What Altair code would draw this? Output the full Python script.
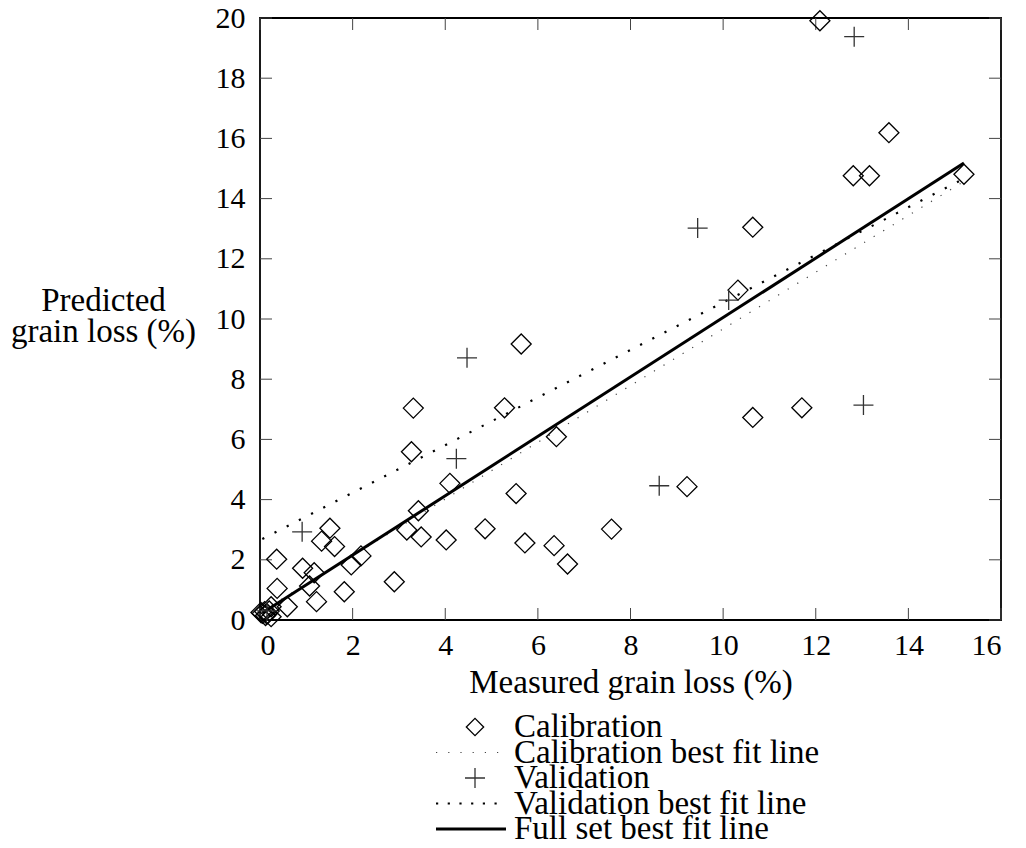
import altair as alt
import pandas as pd

# ---- data ----
cal_x = [12.09, 13.58, 12.81, 13.16, 15.20, 10.64, 10.32, 10.64, 11.70, 9.22,
         5.64, 3.31, 5.28, 3.27, 6.40, 4.10, 5.53, 3.42, 3.17, 3.48,
         4.02, 4.86, 5.72, 6.35, 6.64, 7.59, 2.90, 1.51, 1.33, 1.61,
         0.36, 2.18, 1.97, 0.92, 1.17, 0.37, 1.07, 1.82, 1.22, 0.59,
         0.24, 0.10, 0.05, 0.15, 0.02, 0.20, 0.12, 0.24]
cal_y = [19.91, 16.19, 14.76, 14.76, 14.81, 13.05, 10.96, 6.73, 7.05, 4.43,
         9.17, 7.04, 7.05, 5.59, 6.09, 4.54, 4.20, 3.63, 2.99, 2.76,
         2.66, 3.03, 2.56, 2.47, 1.86, 3.02, 1.27, 3.05, 2.62, 2.44,
         2.02, 2.13, 1.83, 1.72, 1.57, 1.05, 1.13, 0.94, 0.61, 0.44,
         0.44, 0.28, 0.22, 0.20, 0.25, 0.30, 0.15, 0.11]

val_x = [12.83, 9.45, 10.12, 13.03, 4.47, 4.24, 8.62, 0.91, 0.15]
val_y = [19.38, 13.02, 10.63, 7.14, 8.71, 5.36, 4.46, 2.93, 0.30]

fit_x = [0.05, 15.2]
full_fit_y = [0.23, 15.18]
cal_fit_y = [0.30, 14.57]
val_fit_y = [2.69, 14.66]

x_ticks = [0, 2, 4, 6, 8, 10, 12, 14, 16]
y_ticks = [0, 2, 4, 6, 8, 10, 12, 14, 16, 18, 20]

legend_labels = ["Calibration", "Calibration best fit line", "Validation",
                 "Validation best fit line", "Full set best fit line"]
legend_kinds = ["diamond", "calline", "cross", "valline", "fullline"]

FONT = "Liberation Serif"
W, H = 741, 602

cal = pd.DataFrame({"x": cal_x, "y": cal_y})
val = pd.DataFrame({"x": val_x, "y": val_y})
fits = pd.DataFrame({"x": fit_x, "full": full_fit_y, "cal": cal_fit_y, "val": val_fit_y})
xt = pd.DataFrame({"x": x_ticks})
yt = pd.DataFrame({"y": y_ticks})
leg = pd.DataFrame({"label": legend_labels, "kind": legend_kinds,
                    "row": list(range(len(legend_labels)))})

xs = alt.Scale(domain=[0, 16], nice=False, zero=False)
ys = alt.Scale(domain=[0, 20], nice=False, zero=False)

x_axis = alt.Axis(values=x_ticks, domain=False, ticks=False, tickSize=0, grid=False,
                  labelFont=FONT, labelFontSize=30, labelPadding=10, labelColor="black",
                  title="Measured grain loss (%)", titleFont=FONT, titleFontSize=33,
                  titleFontWeight="normal", titleColor="black", titlePadding=6)
y_axis = alt.Axis(values=y_ticks, domain=False, ticks=False, tickSize=0, grid=False,
                  labelFont=FONT, labelFontSize=30, labelPadding=15, labelColor="black",
                  title=["Predicted", "grain loss (%)"], titleFont=FONT, titleFontSize=33,
                  titleFontWeight="normal", titleColor="black", titleAngle=0,
                  titleAlign="center", titleBaseline="middle", titleX=-157, titleY=282,
                  titleLineHeight=31)

cal_pts = alt.Chart(cal).mark_point(shape="diamond", filled=False, size=400,
                                    color="black", strokeWidth=1.3, opacity=1).encode(
    x=alt.X("x:Q", scale=xs, axis=x_axis),
    y=alt.Y("y:Q", scale=ys, axis=y_axis))

val_pts = alt.Chart(val).mark_point(shape="M-1,0H1M0,-1V1", filled=False, size=400,
                                    color="#333333", strokeWidth=1.3, opacity=1).encode(
    x=alt.X("x:Q", scale=xs), y=alt.Y("y:Q", scale=ys))

full_line = alt.Chart(fits).mark_line(color="black", strokeWidth=3).encode(
    x=alt.X("x:Q", scale=xs), y=alt.Y("full:Q", scale=ys))
cal_line = alt.Chart(fits).mark_line(color="#444444", strokeWidth=1.2,
                                     strokeDash=[1.2, 10]).encode(
    x=alt.X("x:Q", scale=xs), y=alt.Y("cal:Q", scale=ys))
val_line = alt.Chart(fits).mark_line(color="black", strokeWidth=2.2,
                                     strokeDash=[2.2, 11.5]).encode(
    x=alt.X("x:Q", scale=xs), y=alt.Y("val:Q", scale=ys))

tick_style = dict(color="#444444", strokeWidth=1)
bt = alt.Chart(xt).mark_rule(**tick_style).encode(
    x=alt.X("x:Q", scale=xs), y=alt.value(H), y2=alt.value(H - 12))
tt = alt.Chart(xt).mark_rule(**tick_style).encode(
    x=alt.X("x:Q", scale=xs), y=alt.value(0), y2=alt.value(12))
lt = alt.Chart(yt).mark_rule(**tick_style).encode(
    y=alt.Y("y:Q", scale=ys), x=alt.value(0), x2=alt.value(12))
rt = alt.Chart(yt).mark_rule(**tick_style).encode(
    y=alt.Y("y:Q", scale=ys), x=alt.value(W), x2=alt.value(W - 12))

main = alt.layer(bt, tt, lt, rt, cal_line, val_line, full_line, cal_pts, val_pts)

# ---- legend below the plot ----
ly = alt.Y("row:Q", scale=alt.Scale(domain=[0, 4], range=[709, 811]), axis=None)
lbase = alt.Chart(leg)
l_text = lbase.mark_text(align="left", baseline="middle", font=FONT, fontSize=33,
                         color="black").encode(x=alt.value(254), y=ly, text="label:N")
l_dia = lbase.transform_filter(alt.datum.kind == "diamond").mark_point(
    shape="diamond", filled=False, size=300, color="black", strokeWidth=1.3, opacity=1
).encode(x=alt.value(215), y=ly)
l_cross = lbase.transform_filter(alt.datum.kind == "cross").mark_point(
    shape="M-1,0H1M0,-1V1", filled=False, size=400, color="#333333", strokeWidth=1.3,
    opacity=1).encode(x=alt.value(215), y=ly)
l_cal = lbase.transform_filter(alt.datum.kind == "calline").mark_rule(
    color="#444444", strokeWidth=1.2, strokeDash=[1.2, 11]).encode(
    x=alt.value(176), x2=alt.value(246), y=ly)
l_val = lbase.transform_filter(alt.datum.kind == "valline").mark_rule(
    color="black", strokeWidth=2.2, strokeDash=[2.2, 9.5]).encode(
    x=alt.value(176), x2=alt.value(246), y=ly)
l_full = lbase.transform_filter(alt.datum.kind == "fullline").mark_rule(
    color="black", strokeWidth=3).encode(
    x=alt.value(176), x2=alt.value(246), y=ly)
legend = alt.layer(l_cal, l_val, l_full, l_dia, l_cross, l_text)

chart = alt.layer(main, legend).resolve_scale(x="independent", y="independent").properties(
    width=W, height=H,
    autosize=alt.AutoSizeParams(type="none"),
    padding={"left": 260, "top": 18, "right": 25, "bottom": 228},
).configure(font=FONT).configure_view(stroke="black", strokeWidth=1.8)

chart.save("out.html", embed_options={"renderer": "svg", "actions": False})
